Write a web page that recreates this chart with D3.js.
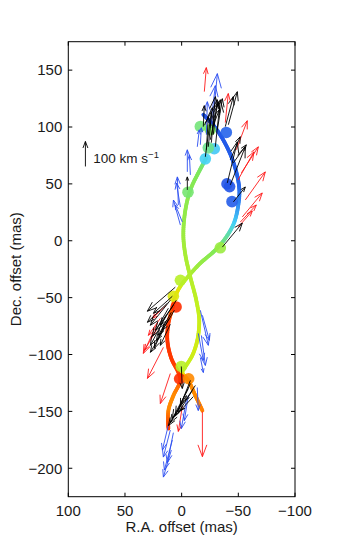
<!DOCTYPE html>
<html>
<head>
<meta charset="utf-8">
<script src="https://cdn.jsdelivr.net/npm/d3@7"></script>
<style>
body { margin: 0; background: #fff; }
text { font-family: "Liberation Sans", Arial, sans-serif; fill: #1a1a1a; }
</style>
</head>
<body>
<div id="chart"></div>
<script>
// tick labels
var xTicks = [100, 50, 0, -50, -100];
var yTicks = [150, 100, 50, 0, -50, -100, -150, -200];

// thick curves: [RA offset (mas), Dec offset (mas), colour value 0..1]
var curveA = [
	[-19.1, 110.8, 0.02], [-29.7, 99.4, 0.03], [-41.2, 80.0, 0.05], [-48.2, 60.6, 0.06],
	[-50.9, 44.7, 0.1], [-50.0, 31.5, 0.2], [-46.5, 16.5, 0.33], [-39.4, 3.3, 0.43],
	[-29.7, -8.2, 0.5], [-16.5, -19.7, 0.54], [-5.9, -31.2, 0.58], [1.1, -40.0, 0.63],
	[5.6, -48.8, 0.72], [8.2, -59.3, 0.86], [11.7, -72.6, 0.95], [12.6, -87.6, 0.96],
	[9.1, -103.5, 0.95], [2.9, -115.8, 0.93], [1.1, -122.8, 0.9], [7.3, -136.2, 0.8],
	[11.7, -149.3, 0.8], [11.7, -165.2, 0.95]
];
var curveB = [
	[-21.8, 72.8, 0.45], [-13.8, 57.9, 0.5], [-7.7, 44.7, 0.52], [-3.3, 27.1, 0.53],
	[-1.5, 5.0, 0.55], [-3.3, -12.6, 0.57], [-7.7, -32.1, 0.59], [-12.9, -52.3, 0.61],
	[-15.5, -69.9, 0.63], [-13.8, -87.6, 0.64], [-9.4, -100.8, 0.64], [-4.1, -109.6, 0.62],
	[-0.6, -115.8, 0.65], [-5.9, -122.8, 0.8], [-12.1, -136.1, 0.8], [-18.3, -149.3, 0.82]
];

// maser spots: [RA, Dec, colour value]
var spots = [
	[-16.5, 100.5, 0.47], [-25.3, 97.6, 0.5], [-39.4, 95.2, 0.08], [-28.8, 80.9, 0.33],
	[-23.5, 81.7, 0.45], [-20.9, 72.0, 0.35], [-40.0, 50.0, 0.02], [-42.3, 47.6, 0.02],
	[-44.4, 34.4, 0.05], [-5.6, 42.7, 0.48], [-34.1, -6.2, 0.55], [1.1, -34.7, 0.6],
	[7.3, -48.8, 0.66], [4.9, -58.2, 0.97], [0.3, -110.5, 0.6], [1.8, -121.3, 0.97],
	[-6.2, -121.3, 0.8]
];

// proper motions: [RA, Dec, vRA (km/s), vDec (km/s)]
var blackVec = [
	[-19.1, 100.3, -4, 84], [-23.5, 82.6, -16, 156], [-26.2, 86.2, -16, 184], [-25.3, 88.8, -32, 152],
	[-29.7, 82.6, -20, 188], [-27.9, 93.2, -16, 140], [-21.8, 80.0, -8, 132], [-20.9, 73.8, -24, 180],
	[-31.5, 97.6, -20, 124], [-41.2, 102.0, -36, 132], [-38.5, 100.3, -32, 120], [-27.1, 99.4, -28, 72],
	[-42.9, 71.2, -40, 92], [-45.6, 68.5, -52, 72], [-40.3, 50.9, -40, 164], [-42.9, 49.1, -60, 152],
	[-45.6, 34.1, -48, 60], [-35.9, -5.6, -80, 96], [-5.0, 44.7, 0, 52],
	[5.6, -40.8, 112, -96], [8.2, -48.8, 76, -68], [10.0, -52.3, 80, -100], [7.3, -56.7, 72, -100],
	[11.7, -59.3, 64, -112], [9.1, -62.9, 52, -92], [13.5, -65.5, 64, -120], [10.8, -68.2, 52, -88],
	[14.4, -71.7, 44, -104], [10.0, -73.4, 40, -84], [16.1, -78.7, 52, -88], [6.4, -61.1, 48, -80],
	[12.6, -54.9, 80, -76], [4.7, -52.3, 64, -100],
	[0.3, -110.5, -4, -88], [-7.7, -125.5, 60, -128], [-5.9, -129.9, 64, -120], [-9.4, -131.7, 56, -88],
	[-4.1, -136.1, 64, -108], [-10.3, -137.0, 52, -56], [-2.4, -140.5, 64, -100], [-7.7, -122.8, 40, -100],
	[-12.1, -127.2, 40, -60]
];
var redVec = [
	[-20.0, 131.1, -8, 96], [-38.5, 103.9, -12, 116], [-48.2, 80.0, -44, 116], [-52.7, 59.7, -68, 104],
	[-56.2, 35.9, -80, 112], [-53.5, 20.9, -80, 96], [-50.0, 12.1, -56, 64], [-51.8, 16.5, -64, 68],
	[-49.7, 53.5, -64, 112],
	[21.5, -72.6, 56, -120], [16.1, -93.7, 64, -124], [10.0, -116.7, 40, -120], [-0.6, -145.6, 16, -100],
	[-18.3, -150.2, 0, -180], [18.8, -68.2, 48, -68], [22.3, -78.7, 48, -80], [13.5, -56.7, 56, -52]
];
var blueVec = [
	[-27.1, 99.4, -20, 216], [-25.3, 99.4, -20, 168], [-21.8, 93.2, -4, 132], [-13.8, 82.6, -8, 68],
	[-16.5, 84.4, -4, 68], [-5.0, 60.6, 0, 88], [-7.7, 57.9, 4, 80], [2.9, 31.5, 4, 112],
	[1.1, 29.7, 16, 96], [1.1, 13.8, 28, 100], [-0.6, 16.5, 28, 68],
	[-16.5, -61.1, -32, -140], [-18.3, -65.5, -28, -100], [-14.7, -81.4, -20, -108], [-17.4, -83.2, -16, -120],
	[-16.5, -102.6, -12, -60], [-13.8, -129.0, -4, -92], [-4.1, -140.5, 20, -112], [-5.9, -136.1, 16, -100],
	[10.0, -166.4, 28, -108], [8.2, -175.2, 32, -120], [9.1, -184.0, 32, -108], [11.7, -162.0, 24, -100],
	[7.3, -168.7, 24, -120]
];

// scale arrow: [RA, Dec, vRA, vDec]
var legendVec = [84.9, 65.3, 0, 100];

var width = 350, height = 559;
var masPerKms = 22 / 100;

var svg = d3.select("#chart").append("svg")
	.attr("width", width)
	.attr("height", height);

var x = d3.scaleLinear().domain([100, -100]).range([68.3, 295]);
var y = d3.scaleLinear().domain([175, -225]).range([41.7, 496.7]);

var color = d3.scaleLinear()
	.domain([0, 0.2, 0.35, 0.5, 0.62, 0.7, 0.8, 1])
	.range(["#1f4ee6", "#2f86f2", "#45d2f5", "#7ee85a", "#c4f01e", "#f2e000", "#ff8a00", "#ff1e00"]);

svg.append("clipPath").attr("id", "clip")
	.append("rect")
	.attr("x", x(100)).attr("y", y(175))
	.attr("width", x(-100) - x(100)).attr("height", y(-225) - y(175));

var plot = svg.append("g").attr("clip-path", "url(#clip)");

// curve with colour changing along it
function drawCurve(pts) {
	var line = d3.line()
		.x(function(d) { return x(d[0]); })
		.y(function(d) { return y(d[1]); })
		.curve(d3.curveCatmullRom);
	var tmp = plot.append("path").attr("d", line(pts)).attr("fill", "none");
	var node = tmp.node();
	var total = node.getTotalLength();
	var cum = [0];
	for (var i = 1; i < pts.length; i++) {
		var dx = x(pts[i][0]) - x(pts[i-1][0]);
		var dy = y(pts[i][1]) - y(pts[i-1][1]);
		cum.push(cum[i-1] + Math.sqrt(dx*dx + dy*dy));
	}
	var cScale = d3.scaleLinear()
		.domain(cum.map(function(c) { return c / cum[cum.length-1]; }))
		.range(pts.map(function(d) { return d[2]; }));
	var n = Math.ceil(total / 2);
	var prev = node.getPointAtLength(0);
	for (var k = 1; k <= n; k++) {
		var p = node.getPointAtLength(total * k / n);
		plot.append("line")
			.attr("x1", prev.x).attr("y1", prev.y)
			.attr("x2", p.x).attr("y2", p.y)
			.attr("stroke", color(cScale((k - 0.5) / n)))
			.attr("stroke-width", 3.8)
			.attr("stroke-linecap", "round");
		prev = p;
	}
	tmp.remove();
}

drawCurve(curveA);
drawCurve(curveB);

plot.selectAll(".spot")
	.data(spots)
	.enter()
	.append("circle")
	.attr("class", "spot")
	.attr("cx", function(d) { return x(d[0]); })
	.attr("cy", function(d) { return y(d[1]); })
	.attr("r", 5.8)
	.style("fill", function(d) { return color(d[2]); })
	.style("opacity", 0.9);

function arrowPath(d) {
	var x0 = x(d[0]), y0 = y(d[1]);
	var x1 = x(d[0] + d[2] * masPerKms), y1 = y(d[1] + d[3] * masPerKms);
	var dx = x1 - x0, dy = y1 - y0;
	var len = Math.sqrt(dx*dx + dy*dy);
	var h = Math.max(4, len * 0.28);
	var a = Math.atan2(dy, dx);
	var w = 0.36;
	var hx1 = x1 - h * Math.cos(a - w), hy1 = y1 - h * Math.sin(a - w);
	var hx2 = x1 - h * Math.cos(a + w), hy2 = y1 - h * Math.sin(a + w);
	return "M" + x0 + "," + y0 + "L" + x1 + "," + y1 +
		"M" + hx1 + "," + hy1 + "L" + x1 + "," + y1 + "L" + hx2 + "," + hy2;
}

function drawArrows(data, col, g) {
	g.selectAll(null)
		.data(data)
		.enter()
		.append("path")
		.attr("d", arrowPath)
		.attr("fill", "none")
		.attr("stroke", col)
		.attr("stroke-width", 0.9);
}

drawArrows(redVec, "#ff1a1a", plot);
drawArrows(blueVec, "#2b4ef0", plot);
drawArrows(blackVec, "#000", plot);
drawArrows([legendVec], "#000", plot);

var lab = svg.append("text")
	.attr("x", 93.3).attr("y", 163.3)
	.style("font-size", "13.5px");
lab.append("tspan").text("100 km s");
lab.append("tspan").attr("dy", -5).style("font-size", "9.5px").text("\u22121");

// frame and inward ticks on all sides
var x0 = x(100), x1 = x(-100), y0 = y(175), y1 = y(-225);
svg.append("rect")
	.attr("x", x0).attr("y", y0)
	.attr("width", x1 - x0).attr("height", y1 - y0)
	.attr("fill", "none").attr("stroke", "#000").attr("stroke-width", 1);

var tl = 4;
xTicks.forEach(function(t) {
	svg.append("line").attr("x1", x(t)).attr("x2", x(t)).attr("y1", y1).attr("y2", y1 - tl).attr("stroke", "#000");
	svg.append("line").attr("x1", x(t)).attr("x2", x(t)).attr("y1", y0).attr("y2", y0 + tl).attr("stroke", "#000");
	svg.append("text")
		.attr("x", x(t)).attr("y", y1 + 19)
		.attr("text-anchor", "middle")
		.style("font-size", "15px")
		.text(String(t).replace("-", "\u2212"));
});
yTicks.forEach(function(t) {
	svg.append("line").attr("x1", x0).attr("x2", x0 + tl).attr("y1", y(t)).attr("y2", y(t)).attr("stroke", "#000");
	svg.append("line").attr("x1", x1).attr("x2", x1 - tl).attr("y1", y(t)).attr("y2", y(t)).attr("stroke", "#000");
	svg.append("text")
		.attr("x", x0 - 6).attr("y", y(t) + 5.3)
		.attr("text-anchor", "end")
		.style("font-size", "15px")
		.text(String(t).replace("-", "\u2212"));
});

svg.append("text")
	.attr("x", (x0 + x1) / 2).attr("y", 532)
	.attr("text-anchor", "middle")
	.style("font-size", "15px")
	.text("R.A. offset (mas)");

svg.append("text")
	.attr("transform", "translate(21," + ((y0 + y1) / 2) + ") rotate(-90)")
	.attr("text-anchor", "middle")
	.style("font-size", "15px")
	.text("Dec. offset (mas)");
</script>
</body>
</html>
